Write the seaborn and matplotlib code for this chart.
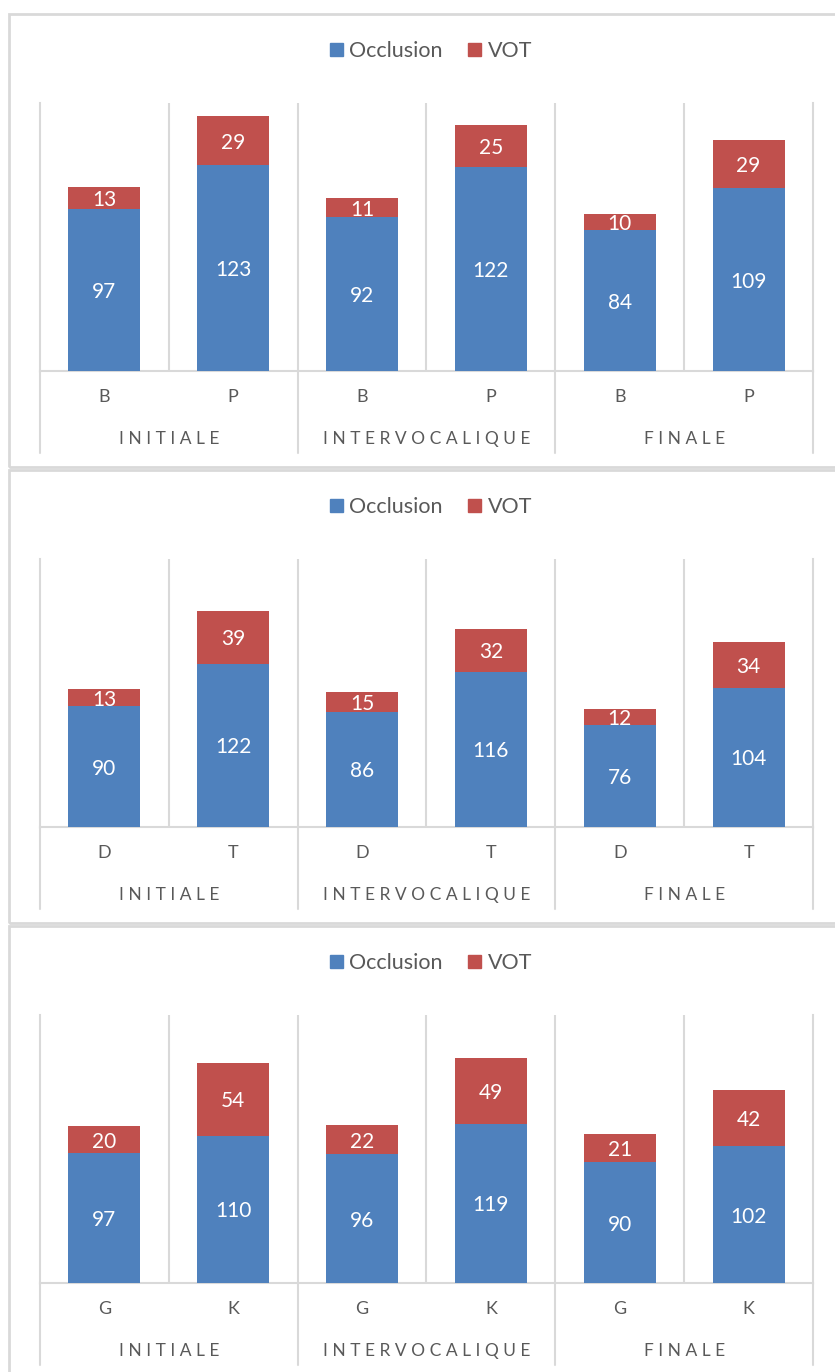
import pandas as pd
import seaborn as sns
import matplotlib.pyplot as plt
import matplotlib.transforms as mtransforms
from matplotlib.patches import Patch, Rectangle

# Data
groups = ["INITIALE", "INTERVOCALIQUE", "FINALE"]

labels_bp = ["B", "P"]
occl_bp = [97, 123, 92, 122, 84, 109]
vot_bp = [13, 29, 11, 25, 10, 29]

labels_dt = ["D", "T"]
occl_dt = [90, 122, 86, 116, 76, 104]
vot_dt = [13, 39, 15, 32, 12, 34]

labels_gk = ["G", "K"]
occl_gk = [97, 110, 96, 119, 90, 102]
vot_gk = [20, 54, 22, 49, 21, 42]

panels = [
    (labels_bp, occl_bp, vot_bp, 160),
    (labels_dt, occl_dt, vot_dt, 200),
    (labels_gk, occl_gk, vot_gk, 200),
]

BLUE = "#4F81BD"
RED = "#C0504D"
GRID = "#d9d9d9"
TXT = "#595959"

sns.set_style("white")
plt.rcParams["font.family"] = ["Lato", "DejaVu Sans"]

W, H = 835, 1372
fig = plt.figure(figsize=(W / 100, H / 100), dpi=100)


def fx(px):
    return px / W


def fy(py):
    return 1 - py / H


for i, (labels, occl, vot, ymax) in enumerate(panels):
    off = 456 * i

    # panel frame
    top, bottom = 14 + off, 467 + off
    fig.patches.append(Rectangle((fx(9), fy(bottom)), fx(900), fy(top) - fy(bottom),
                                 transform=fig.transFigure, fill=False,
                                 edgecolor=GRID, linewidth=2, zorder=0))

    base, ptop = 371 + off, 103 + off
    ax = fig.add_axes([fx(40), fy(base), fx(813) - fx(40), fy(ptop) - fy(base)])

    # build table
    keys = [f"{g}-{l}" for g in groups for l in labels]
    total = [o + v for o, v in zip(occl, vot)]
    df = pd.DataFrame({"key": keys, "occlusion": occl, "vot": vot, "total": total})

    sns.barplot(data=df, x="key", y="total", order=keys, color=RED, width=0.56,
                saturation=1, linewidth=0, ax=ax, zorder=2)
    sns.barplot(data=df, x="key", y="occlusion", order=keys, color=BLUE, width=0.56,
                saturation=1, linewidth=0, ax=ax, zorder=3)

    ax.set_xlim(-0.5, 5.5)
    ax.set_ylim(0, ymax)
    ax.set_xlabel("")
    ax.set_ylabel("")
    ax.set_yticks([])
    ax.set_xticks([])

    # gridlines at category boundaries
    for b in [0.5, 1.5, 2.5, 3.5, 4.5]:
        ax.axvline(b, color=GRID, linewidth=1.5, zorder=1)
    for side in ["left", "right", "bottom"]:
        ax.spines[side].set_color(GRID)
        ax.spines[side].set_linewidth(1.5)
    ax.spines["top"].set_visible(False)

    trans = mtransforms.blended_transform_factory(ax.transData, ax.transAxes)
    h = base - ptop
    for b in [-0.5, 1.5, 3.5, 5.5]:
        ax.plot([b, b], [0, -82 / h], transform=trans, color=GRID, linewidth=1.5,
                clip_on=False)

    # value labels
    for x, (o, v) in enumerate(zip(occl, vot)):
        ax.text(x, o / 2, str(o), ha="center", va="center_baseline", color="white",
                fontsize=15, zorder=5)
        ax.text(x, o + v / 2, str(v), ha="center", va="center_baseline", color="white",
                fontsize=15, zorder=5)

    # category and group labels
    for x, k in enumerate(keys):
        ax.text(x, -26 / h, k.split("-")[1], transform=trans, ha="center",
                va="center", color=TXT, fontsize=13)
    for j, g in enumerate(groups):
        ax.text(2 * j + 0.5, -68 / h, " ".join(g), transform=trans, ha="center",
                va="center", color=TXT, fontsize=12.5)

    # legend
    handles = [Patch(color=BLUE, label="Occlusion"), Patch(color=RED, label="VOT")]
    fig.legend(handles=handles, loc="center", bbox_to_anchor=(fx(431), fy(51 + off)),
               ncol=2, frameon=False, fontsize=15.5, handlelength=0.6,
               handleheight=0.6, handletextpad=0.3, columnspacing=1.2,
               labelcolor=TXT)

fig.savefig("out.png", dpi=100)
